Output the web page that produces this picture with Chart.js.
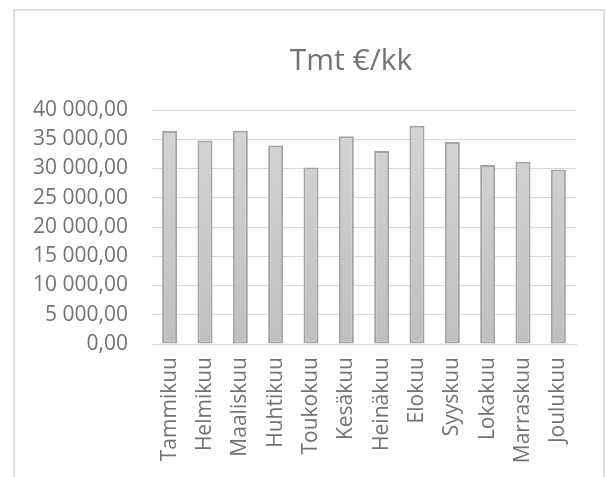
<!DOCTYPE html>
<html>
<head>
<meta charset="utf-8">
<script src="https://cdn.jsdelivr.net/npm/chart.js@4"></script>
<style>
    html, body { margin: 0; padding: 0; background: #fff; overflow: hidden; }
    #frame {
        position: absolute; left: 13px; top: 9px; width: 588px; height: 480px;
        border: 2px solid #dedede; border-bottom: none;
    }
    #chart { position: absolute; left: 14px; top: 11px; }
</style>
</head>
<body>
<div id="frame"></div>
<canvas id="chart" width="674" height="466"></canvas>
<script>
var kuukaudet = ["Tammikuu", "Helmikuu", "Maaliskuu", "Huhtikuu", "Toukokuu", "Kesäkuu",
    "Heinäkuu", "Elokuu", "Syyskuu", "Lokakuu", "Marraskuu", "Joulukuu"];
var tmt = [36400, 34800, 36450, 33950, 30150, 35500, 33000, 37300, 34550, 30600, 31150, 29850];
var otsikko = "Tmt €/kk";
var yMin = 0, yMax = 40000, yStep = 5000;

// suomalainen muoto: 40 000,00
function muotoile(v) {
    var s = Math.round(v).toString().replace(/\B(?=(\d{3})+(?!\d))/g, " ");
    return s + ",00";
}

var tekstiVari = "#737373";
var fontti = "'Open Sans', sans-serif";

function palkkiVari(context) {
    var chart = context.chart;
    var area = chart.chartArea;
    if (!area) {
        return "#cccccc";
    }
    var g = chart.ctx.createLinearGradient(0, area.top, 0, area.bottom);
    g.addColorStop(0, "#d6d6d6");
    g.addColorStop(1, "#bfbfbf");
    return g;
}

var canvas = document.getElementById("chart");
var myChart = new Chart(canvas, {
    type: 'bar',
    data: {
        labels: kuukaudet,
        datasets: [{
            label: otsikko,
            data: tmt,
            backgroundColor: palkkiVari,
            borderColor: "#a3a3a3",
            borderWidth: 2,
            borderSkipped: false,
            categoryPercentage: 1,
            barPercentage: 0.425
        }]
    },
    options: {
        responsive: false,
        animation: false,
        devicePixelRatio: 1,
        layout: { padding: 0 },
        plugins: {
            legend: { display: false },
            tooltip: { enabled: false },
            title: {
                display: true,
                text: otsikko,
                color: tekstiVari,
                font: { family: fontti, size: 30, weight: 'normal', lineHeight: 1.2 },
                padding: { top: 32, bottom: 31 }
            }
        },
        scales: {
            x: {
                grid: { display: false, drawTicks: false },
                border: { display: true, color: "#d9d9d9", width: 1 },
                ticks: {
                    color: tekstiVari,
                    font: { family: fontti, size: 21 },
                    minRotation: 90,
                    maxRotation: 90,
                    autoSkip: false,
                    padding: 13
                },
                afterFit: function (scale) { scale.height = 133; }
            },
            y: {
                min: yMin,
                max: yMax,
                grid: { color: "#d9d9d9", lineWidth: 1, drawTicks: false },
                border: { display: false },
                ticks: {
                    stepSize: yStep,
                    color: tekstiVari,
                    font: { family: fontti, size: 21 },
                    padding: 24,
                    callback: function (v) { return muotoile(v); }
                },
                afterFit: function (scale) { scale.width = 138; }
            },
            tyhja: {
                type: 'linear',
                position: 'right',
                grid: { display: false, drawTicks: false },
                border: { display: false },
                ticks: { display: false },
                afterFit: function (scale) { scale.width = 112; }
            }
        }
    }
});
</script>
</body>
</html>
